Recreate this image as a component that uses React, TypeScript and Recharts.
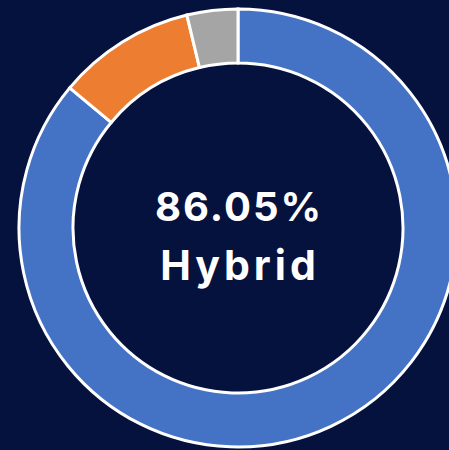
import { PieChart, Pie, Cell } from "recharts";

const categories = ["Hybrid", "Remote", "On-site"];
const shares = [86.05, 10.2, 3.75];
const colors = ["#4472C4", "#ED7D31", "#A5A5A5"];

const data = categories.map((name, i) => ({ name, value: shares[i] }));

const BG = "#06123E";

export default function App() {
  const line = (size: number, ls: number) => ({
    fontSize: size,
    letterSpacing: ls,
    paddingLeft: ls,
    whiteSpace: "nowrap" as const,
  });
  return (
    <div style={{ position: "fixed", left: 0, top: 0, width: 449, height: 450, background: BG, overflow: "hidden" }}>
      <PieChart width={449} height={450} margin={{ top: 0, right: 0, bottom: 0, left: 0 }}>
        <Pie
          data={data}
          dataKey="value"
          nameKey="name"
          cx={238}
          cy={228}
          innerRadius={165}
          outerRadius={219}
          startAngle={90}
          endAngle={-270}
          stroke="#ffffff"
          strokeWidth={3}
          isAnimationActive={false}
        >
          {data.map((d, i) => (
            <Cell key={d.name} fill={colors[i]} />
          ))}
        </Pie>
      </PieChart>
      <div
        style={{
          position: "absolute",
          left: 238 - 130,
          width: 260,
          top: 178,
          textAlign: "center",
          color: "#ffffff",
          fontFamily: "Inter, sans-serif",
          fontWeight: 700,
          lineHeight: "58px",
        }}
      >
        <div style={line(40, 2)}>{shares[0].toFixed(2)}%</div>
        <div style={line(41, 4)}>{categories[0]}</div>
      </div>
    </div>
  );
}
